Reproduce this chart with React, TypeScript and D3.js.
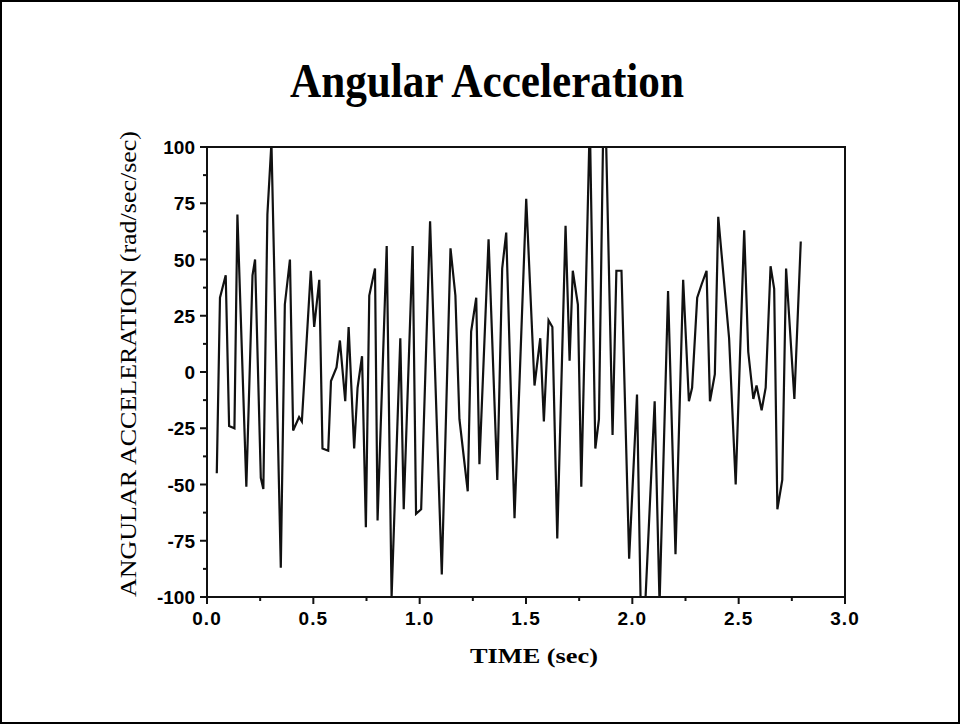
import React from "react";
import * as d3 from "d3";

const TITLE = "Angular Acceleration";
const X_LABEL = "TIME (sec)";
const Y_LABEL = "ANGULAR ACCELERATION (rad/sec/sec)";

const times = [
  0.046, 0.061, 0.088, 0.104, 0.129, 0.143, 0.185, 0.214, 0.226, 0.253,
  0.265, 0.284, 0.303, 0.347, 0.366, 0.39, 0.405, 0.433, 0.446, 0.488,
  0.504, 0.528, 0.543, 0.57, 0.583, 0.609, 0.625, 0.65, 0.666, 0.692,
  0.708, 0.729, 0.747, 0.763, 0.79, 0.802, 0.845, 0.868, 0.909, 0.925,
  0.967, 0.983, 1.007, 1.049, 1.104, 1.145, 1.168, 1.187, 1.226, 1.242,
  1.266, 1.281, 1.324, 1.365, 1.388, 1.407, 1.446, 1.501, 1.54, 1.567,
  1.584, 1.606, 1.624, 1.647, 1.686, 1.705, 1.72, 1.744, 1.76, 1.8,
  1.826, 1.843, 1.868, 1.907, 1.925, 1.949, 1.985, 2.022, 2.045, 2.105,
  2.128, 2.168, 2.203, 2.239, 2.266, 2.281, 2.305, 2.326, 2.349, 2.365,
  2.388, 2.404, 2.455, 2.486, 2.526, 2.545, 2.569, 2.584, 2.608, 2.627,
  2.65, 2.667, 2.682, 2.705, 2.723, 2.762, 2.792,
];

const accel = [
  -45, 33, 43, -24, -25, 70, -51, 43, 50, -47,
  -52, 70, 102, -87, 30, 50, -26, -20, -22, 45,
  20, 41, -34, -35, -4, 2, 14, -13, 20, -34,
  -7, 7, -69, 34, 46, -66, 56, -100, 15, -61,
  56, -63, -61, 67, -90, 55, 34, -21, -53, 18,
  33, -41, 59, -48, 46, 62, -65, 77, -6, 15,
  -22, 23, 20, -74, 65, 5, 45, 30, -51, 112,
  -34, -21, 140, -28, 45, 45, -83, -10, -135, -13,
  -103, 36, -81, 41, -13, -7, 33, 39, 45, -13,
  -1, 69, 15, -50, 63, 9, -12, -6, -17, -7,
  47, 37, -61, -48, 46, -12, 58,
];

const xTicks = [0, 0.5, 1, 1.5, 2, 2.5, 3];
const xTickLabels = ["0.0", "0.5", "1.0", "1.5", "2.0", "2.5", "3.0"];
const xMinorTicks = [0.25, 0.75, 1.25, 1.75, 2.25, 2.75];
const yTicks = [-100, -75, -50, -25, 0, 25, 50, 75, 100];
const yTickLabels = ["-100", "-75", "-50", "-25", "0", "25", "50", "75", "100"];
const yMinorTicks = [-87.5, -62.5, -37.5, -12.5, 12.5, 37.5, 62.5, 87.5];

const W = 960;
const H = 724;
const left = 207;
const right = 845;
const top = 147;
const bottom = 597;

export default function App() {
  const x = d3.scaleLinear().domain([0, 3]).range([left, right]);
  const y = d3.scaleLinear().domain([-100, 100]).range([bottom, top]);
  const data = times.map((t, i) => [t, accel[i]] as [number, number]);
  const line = d3
    .line<[number, number]>()
    .x((d) => x(d[0]))
    .y((d) => y(d[1]));

  const sans = "'Liberation Sans', Arial, Helvetica, sans-serif";
  const serif = "'Liberation Serif', 'Times New Roman', Times, serif";

  return (
    <div style={{ position: "absolute", left: 0, top: 0 }}>
      <svg width={W} height={H} style={{ display: "block", background: "#fff" }}>
        <rect x={1} y={1} width={W - 2} height={H - 2} fill="#fff" stroke="#000" strokeWidth={2} />
        <text
          x={487}
          y={97}
          textAnchor="middle"
          fontFamily={serif}
          fontWeight="bold"
          fontSize={48}
          textLength={394}
          lengthAdjust="spacingAndGlyphs"
        >
          {TITLE}
        </text>

        <defs>
          <clipPath id="plotClip">
            <rect x={left} y={top} width={right - left} height={bottom - top} />
          </clipPath>
        </defs>

        <path
          d={line(data) || ""}
          fill="none"
          stroke="#111"
          strokeWidth={2.2}
          strokeLinejoin="miter"
          clipPath="url(#plotClip)"
        />

        {/* frame */}
        <rect
          x={left}
          y={top}
          width={right - left}
          height={bottom - top}
          fill="none"
          stroke="#111"
          strokeWidth={2}
        />

        {/* y ticks */}
        {yTicks.map((v, i) => (
          <g key={"yt" + i}>
            <line x1={left - 7} x2={left} y1={y(v)} y2={y(v)} stroke="#111" strokeWidth={2} />
            <text
              x={left - 12}
              y={y(v) + 7}
              textAnchor="end"
              fontFamily={sans}
              fontWeight="bold"
              fontSize={19}
            >
              {yTickLabels[i]}
            </text>
          </g>
        ))}
        {yMinorTicks.map((v, i) => (
          <line key={"ym" + i} x1={left - 4} x2={left} y1={y(v)} y2={y(v)} stroke="#111" strokeWidth={2} />
        ))}

        {/* x ticks */}
        {xTicks.map((v, i) => (
          <g key={"xt" + i}>
            <line x1={x(v)} x2={x(v)} y1={bottom} y2={bottom + 7} stroke="#111" strokeWidth={2} />
            <text
              x={x(v)}
              y={bottom + 28}
              textAnchor="middle"
              fontFamily={sans}
              fontWeight="bold"
              fontSize={19}
              letterSpacing={1}
            >
              {xTickLabels[i]}
            </text>
          </g>
        ))}
        {xMinorTicks.map((v, i) => (
          <line key={"xm" + i} x1={x(v)} x2={x(v)} y1={bottom} y2={bottom + 4} stroke="#111" strokeWidth={2} />
        ))}

        <text
          x={534}
          y={663}
          textAnchor="middle"
          fontFamily={serif}
          fontWeight="bold"
          fontSize={22}
          textLength={128}
          lengthAdjust="spacingAndGlyphs"
        >
          {X_LABEL}
        </text>

        <text
          transform={`translate(136, 364) rotate(-90)`}
          textAnchor="middle"
          fontFamily={serif}
          fontSize={23}
          textLength={466}
          lengthAdjust="spacingAndGlyphs"
        >
          {Y_LABEL}
        </text>
      </svg>
    </div>
  );
}
